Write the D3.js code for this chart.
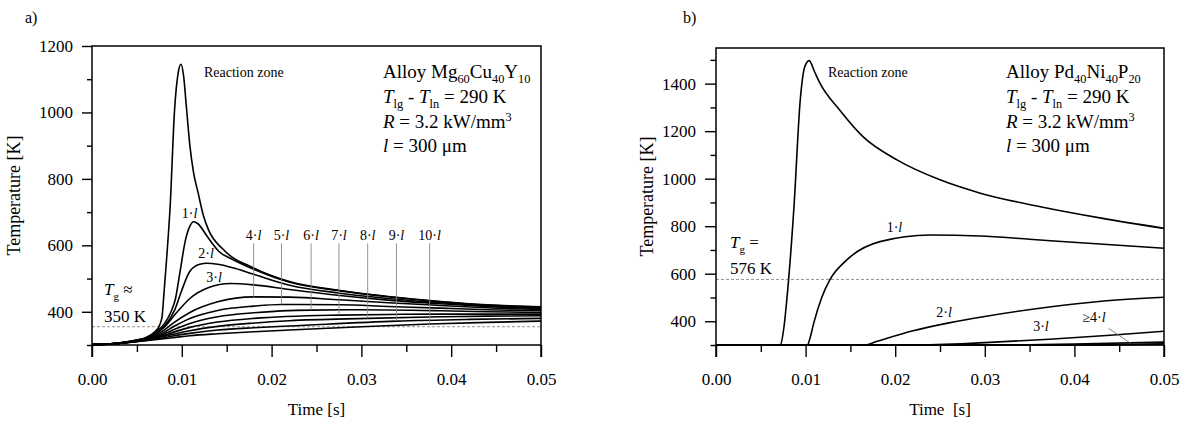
<!DOCTYPE html>
<html>
<head>
<meta charset="utf-8">
<script src="https://cdn.jsdelivr.net/npm/d3@7"></script>
<style>
  body { margin: 0; background: #fff; }
  text { font-family: "Liberation Serif", "Times New Roman", serif; fill: #000; white-space: pre; }
</style>
</head>
<body>
<svg id="chart" width="1187" height="422"></svg>
<script>
// ---- panel a) Mg60Cu40Y10 : [time s, temperature K]
const aReaction = [[0,301],[0.003,306],[0.005,315],[0.006,322],[0.007,340],[0.0075,358],[0.0078,385],[0.008,450],[0.0083,556],[0.0087,716],[0.0092,1010],[0.0096,1120],[0.0099,1145],[0.0102,1110],[0.0105,1020],[0.0109,900],[0.0113,820],[0.0118,760],[0.0124,690],[0.013,645],[0.0146,588],[0.018,532],[0.022,491],[0.0276,464],[0.033,446],[0.0388,431],[0.044,421],[0.05,415]];
const a1 = [[0,301],[0.003,306],[0.005,315],[0.006,322],[0.007,338],[0.008,362],[0.0088,400],[0.0093,440],[0.0098,520],[0.0104,615],[0.0109,658],[0.0113,671],[0.0118,665],[0.0128,628],[0.0142,580],[0.0154,561],[0.018,528],[0.022,489],[0.0276,463],[0.033,445],[0.0388,430],[0.044,420],[0.05,414]];
const a2 = [[0,301],[0.003,306],[0.005,314],[0.006,321],[0.007,335],[0.008,355],[0.0092,405],[0.01,465],[0.0109,522],[0.012,543],[0.0128,546],[0.014,543],[0.016,530],[0.018,513],[0.022,480],[0.0276,456],[0.033,440],[0.0388,427],[0.044,418],[0.05,412]];
const a3 = [[0,301],[0.003,306],[0.005,314],[0.006,320],[0.007,332],[0.008,352],[0.0095,400],[0.0109,440],[0.013,473],[0.0154,485],[0.018,481],[0.022,467],[0.0276,449],[0.033,435],[0.0388,424],[0.044,416],[0.05,410]];
const a4 = [[0,301],[0.003,305],[0.005,313],[0.006,319],[0.007,329],[0.008,344],[0.009,365],[0.0109,398],[0.014,430],[0.018,445],[0.022,444],[0.0276,436],[0.033,427],[0.0388,419],[0.044,412],[0.05,407]];
const a5 = [[0,301],[0.003,305],[0.005,313],[0.006,318],[0.007,326],[0.008,338],[0.009,354],[0.0109,380],[0.014,404],[0.018,417],[0.0211,422],[0.0276,421],[0.033,416],[0.0388,411],[0.044,406],[0.05,403]];
const a6 = [[0,301],[0.003,305],[0.005,312],[0.006,317],[0.007,324],[0.008,333],[0.009,345],[0.0109,365],[0.014,385],[0.018,397],[0.0244,405],[0.03,406],[0.0388,403],[0.044,400],[0.05,398]];
const a7 = [[0,301],[0.003,305],[0.005,312],[0.006,316],[0.007,322],[0.008,329],[0.009,338],[0.0109,353],[0.014,369],[0.018,380],[0.0275,390],[0.033,392],[0.0388,393],[0.044,393],[0.05,393]];
const a8 = [[0,301],[0.003,305],[0.005,311],[0.006,315],[0.007,320],[0.008,326],[0.009,332],[0.0109,343],[0.014,356],[0.018,366],[0.022,373],[0.0307,380],[0.0388,385],[0.044,387],[0.05,388]];
const a9 = [[0,301],[0.003,305],[0.005,311],[0.006,314],[0.007,318],[0.008,322],[0.009,327],[0.0109,335],[0.014,345],[0.018,352],[0.022,357],[0.0339,372],[0.042,377],[0.05,380]];
const a10 = [[0,301],[0.003,305],[0.005,310],[0.006,313],[0.007,316],[0.008,319],[0.009,322],[0.0109,328],[0.014,334],[0.018,340],[0.022,345],[0.03,355],[0.0376,363],[0.044,368],[0.05,372]];

// curve labels a): [multiple, t, T] and leader lines [multiple, t, T on curve]
const aLabels = [['1',0.01086,682],['2',0.0127,562],['3',0.01359,490]];
const aLeaders = [['4',0.018,445],['5',0.0211,422],['6',0.0244,405],['7',0.0275,390],['8',0.0307,380],['9',0.0339,372],['10',0.0376,363]];
const aLeaderTop = 606, aLeaderLabel = 616;
const aTg = 355;

// ---- panel b) Pd40Ni40P20
const bReaction = [[0,300],[0.007,300],[0.0072,302],[0.0076,380],[0.0079,489],[0.0087,880],[0.0094,1330],[0.0099,1470],[0.0104,1497],[0.011,1450],[0.0116,1402],[0.0138,1289],[0.0164,1177],[0.0202,1079],[0.025,995],[0.0295,939],[0.0362,882],[0.043,834],[0.05,791]];
const b1 = [[0,300],[0.0102,300],[0.0105,330],[0.0109,391],[0.0118,500],[0.0127,574],[0.0146,658],[0.0183,735],[0.0239,763],[0.0295,759],[0.035,745],[0.042,727],[0.05,707]];
const b2 = [[0,300],[0.0166,300],[0.018,316],[0.022,360],[0.026,393],[0.03,420],[0.0372,460],[0.043,484],[0.05,501]];
const b3 = [[0,300],[0.022,300],[0.03,310],[0.0372,324],[0.044,341],[0.05,358]];
const b4 = [[0,300],[0.03,300],[0.04,304],[0.05,312]];
const b5 = [[0,300],[0.038,300],[0.05,305]];
const b6 = [[0,300],[0.044,300],[0.05,302]];
const bLabels = [['1·',0.01992,774],['2·',0.02545,419],['3·',0.03627,361],['≥4·',0.04219,398]];
const bLeader = [[0.04381,370],[0.04622,309]];
const bTg = 576;

const xTicksMajor = [0, 0.01, 0.02, 0.03, 0.04, 0.05];
const xTicksMinor = [0.005, 0.015, 0.025, 0.035, 0.045];

const svg = d3.select('#chart');

function richText(g, x, y, parts, size) {
  const t = g.append('text').attr('x', x).attr('y', y).style('font-size', size + 'px');
  let cur = 0;
  parts.forEach(p => {
    const off = p.sub ? size * 0.28 : p.sup ? -size * 0.38 : 0;
    const ts = t.append('tspan').attr('dy', off - cur).text(p.s);
    cur = off;
    if (p.sub || p.sup) ts.style('font-size', (size * 0.65) + 'px');
    if (p.it) ts.style('font-style', 'italic');
  });
  return t;
}

function panel(opt) {
  const g = svg.append('g');
  const x = d3.scaleLinear().domain([0, 0.05]).range([opt.x0, opt.x1]);
  const y = d3.scaleLinear().domain(opt.yDomain).range([345, opt.yTop]);
  const yb = 345, yt = y(opt.yDomain[1]);

  // dashed Tg line
  g.append('line')
    .attr('x1', x(0)).attr('x2', x(0.05))
    .attr('y1', y(opt.tg)).attr('y2', y(opt.tg))
    .attr('stroke', '#777').attr('stroke-width', 0.8).attr('stroke-dasharray', '3,2');

  // curves
  const line = d3.line().x(d => x(d[0])).y(d => y(d[1])).curve(d3.curveMonotoneX);
  g.selectAll('path.curve').data(opt.curves).join('path')
    .attr('class', 'curve')
    .attr('d', line)
    .attr('fill', 'none').attr('stroke', '#000').attr('stroke-width', 1.6);

  // axes
  const yMaj = d3.axisLeft(y).tickValues(opt.yMajor).tickSize(opt.tickLen).tickPadding(9).tickFormat(d3.format('d'));
  const yMin = d3.axisLeft(y).tickValues(opt.yMinor).tickSize(opt.tickLen / 2).tickFormat('');
  const xMaj = d3.axisBottom(x).tickValues(xTicksMajor).tickSize(12).tickPadding(16).tickFormat(d3.format('.2f'));
  const xMin = d3.axisBottom(x).tickValues(xTicksMinor).tickSize(7).tickFormat('');
  [[yMaj, `translate(${opt.x0},0)`], [yMin, `translate(${opt.x0},0)`],
   [xMaj, `translate(0,${yb})`], [xMin, `translate(0,${yb})`]].forEach(([ax, tr]) => {
    const a = g.append('g').attr('transform', tr).call(ax);
    a.attr('font-family', null);
    a.select('.domain').remove();
    a.selectAll('line').attr('stroke', '#000').attr('stroke-width', 1.4);
    a.selectAll('text').style('font-size', '17px').attr('fill', '#000');
  });

  // frame
  g.append('path')
    .attr('d', `M${opt.x0},${yb + 12}V${yt}H${opt.x1}V${yb + 12}M${opt.x0},${yb}H${opt.x1}`)
    .attr('fill', 'none').attr('stroke', '#000').attr('stroke-width', 1.5);

  // axis titles
  g.append('text')
    .attr('transform', `translate(${opt.yTitleX},${(yb + yt) / 2}) rotate(-90)`)
    .attr('text-anchor', 'middle').style('font-size', '18px').text('Temperature [K]');
  g.append('text')
    .attr('x', (opt.x0 + opt.x1) / 2).attr('y', 415)
    .attr('text-anchor', 'middle').style('font-size', '17px').text(opt.xTitle);

  // panel letter
  g.append('text').attr('x', opt.letterX).attr('y', 23).style('font-size', '16px').text(opt.letter);

  // Reaction zone
  g.append('text').attr('x', opt.x0 + 112).attr('y', 77).style('font-size', '14px').text('Reaction zone');

  // alloy info
  const ix = opt.x1 - 158;
  richText(g, ix, 78, opt.alloy, 19);
  richText(g, ix, 103, [{s:'T',it:1},{s:'lg',sub:1},{s:' - '},{s:'T',it:1},{s:'ln',sub:1},{s:' = 290 K'}], 19);
  richText(g, ix, 128, [{s:'R',it:1},{s:' = 3.2 kW/mm'},{s:'3',sup:1}], 19);
  richText(g, ix, 152, [{s:'l',it:1},{s:' = 300 μm'}], 19);

  // Tg label
  richText(g, opt.x0 + opt.tgDx, opt.tgY1, [{s:'T',it:1},{s:'g',sub:1},{s:opt.tgSym}], 17);
  g.append('text').attr('x', opt.x0 + opt.tgDx).attr('y', opt.tgY2).style('font-size', '17px').text(opt.tgVal);

  return {g, x, y};
}

function curveLabel(g, xp, yp, pre) {
  g.append('text').attr('x', xp).attr('y', yp).attr('text-anchor', 'middle').style('font-size', '14px')
    .call(t => { t.append('tspan').text(pre); t.append('tspan').style('font-style', 'italic').text('l'); });
}

// ---- a)
const A = panel({
  x0: 92, x1: 541, yTop: 46, yDomain: [300, 1200], tickLen: 10,
  yMajor: [400, 600, 800, 1000, 1200], yMinor: [300, 500, 700, 900, 1100],
  curves: [aReaction, a1, a2, a3, a4, a5, a6, a7, a8, a9, a10],
  tg: aTg, tgSym: ' ≈', tgVal: '350 K', tgDx: 12, tgY1: 295, tgY2: 322,
  yTitleX: 20, xTitle: 'Time [s]', letter: 'a)', letterX: 25,
  alloy: [{s:'Alloy Mg'},{s:'60',sub:1},{s:'Cu'},{s:'40',sub:1},{s:'Y'},{s:'10',sub:1}]
});
aLabels.forEach(([n, t, T]) => curveLabel(A.g, A.x(t), A.y(T), n + '·'));
aLeaders.forEach(([n, t, T]) => {
  A.g.append('line').attr('x1', A.x(t)).attr('x2', A.x(t)).attr('y1', A.y(aLeaderTop)).attr('y2', A.y(T))
    .attr('stroke', '#888').attr('stroke-width', 0.9);
  curveLabel(A.g, A.x(t), A.y(aLeaderLabel), n + '·');
});

// ---- b)
const B = panel({
  x0: 716, x1: 1164, yTop: 48, yDomain: [300, 1550], tickLen: 11,
  yMajor: [400, 600, 800, 1000, 1200, 1400], yMinor: [300, 500, 700, 900, 1100, 1300, 1500],
  curves: [bReaction, b1, b2, b3, b4, b5, b6],
  tg: bTg, tgSym: ' =', tgVal: '576 K', tgDx: 14, tgY1: 248, tgY2: 274,
  yTitleX: 653, xTitle: 'Time  [s]', letter: 'b)', letterX: 683,
  alloy: [{s:'Alloy Pd'},{s:'40',sub:1},{s:'Ni'},{s:'40',sub:1},{s:'P'},{s:'20',sub:1}]
});
bLabels.forEach(([n, t, T]) => curveLabel(B.g, B.x(t), B.y(T), n));
B.g.append('line')
  .attr('x1', B.x(bLeader[0][0])).attr('y1', B.y(bLeader[0][1]))
  .attr('x2', B.x(bLeader[1][0])).attr('y2', B.y(bLeader[1][1]))
  .attr('stroke', '#666').attr('stroke-width', 0.8);
</script>
</body>
</html>
